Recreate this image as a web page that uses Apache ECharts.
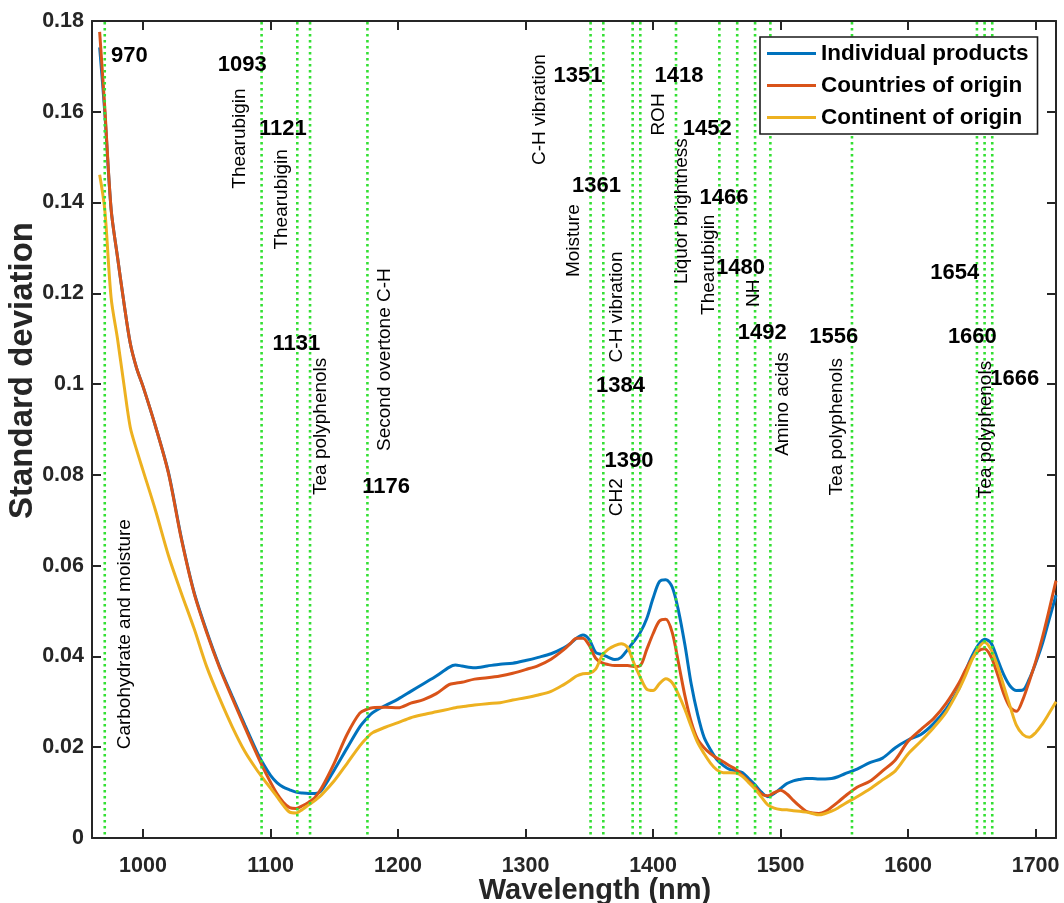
<!DOCTYPE html>
<html>
<head>
<meta charset="utf-8">
<title>Standard deviation of NIR spectra</title>
<script src="https://cdn.jsdelivr.net/npm/echarts@6/dist/echarts.min.js"></script>
<style>
  html, body { margin: 0; padding: 0; background: #fff; }
  #chart { width: 1064px; height: 903px; }
</style>
</head>
<body>
<div id="chart"></div>
<script>
// Wavelength grid (nm) shared by the three standard-deviation spectra
const wavelengths = [
  966, 970, 975, 980, 985, 990, 995, 1000, 1010, 1020,
  1030, 1040, 1050, 1060, 1070, 1080, 1090, 1095, 1100, 1105,
  1110, 1115, 1120, 1125, 1130, 1135, 1140, 1150, 1160, 1170,
  1176, 1180, 1190, 1200, 1210, 1220, 1230, 1240, 1245, 1250,
  1260, 1270, 1280, 1290, 1300, 1310, 1320, 1330, 1335, 1340,
  1345, 1350, 1355, 1360, 1365, 1370, 1375, 1380, 1385, 1390,
  1395, 1400, 1405, 1410, 1415, 1420, 1425, 1430, 1435, 1440,
  1445, 1450, 1455, 1460, 1465, 1470, 1475, 1480, 1485, 1490,
  1495, 1500, 1505, 1510, 1515, 1520, 1525, 1530, 1535, 1540,
  1545, 1550, 1560, 1570, 1580, 1590, 1600, 1610, 1620, 1630,
  1640, 1645, 1650, 1655, 1660, 1665, 1670, 1675, 1680, 1685,
  1690, 1695, 1700, 1705, 1710, 1716
];

const individualProducts = [
  0.1742, 0.1600, 0.1385, 0.1280, 0.1180, 0.1090, 0.1035, 0.0995, 0.0905, 0.0805,
  0.0662, 0.0542, 0.0455, 0.0378, 0.0312, 0.0248, 0.0186, 0.0160, 0.0138, 0.0122,
  0.0112, 0.0106, 0.0101, 0.0099, 0.0098, 0.0098, 0.0105, 0.0150, 0.0198, 0.0245,
  0.0265, 0.0276, 0.0292, 0.0306, 0.0323, 0.0340, 0.0357, 0.0376, 0.0381, 0.0379,
  0.0375, 0.0379, 0.0383, 0.0385, 0.0391, 0.0398, 0.0406, 0.0419, 0.0428, 0.0440,
  0.0447, 0.0437, 0.0409, 0.0404, 0.0398, 0.0393, 0.0398, 0.0415, 0.0433, 0.0453,
  0.0483, 0.0528, 0.0565, 0.0569, 0.0553, 0.0500, 0.0425, 0.0338, 0.0272, 0.0222,
  0.0195, 0.0173, 0.0160, 0.0151, 0.0148, 0.0144, 0.0131, 0.0117, 0.0101, 0.0091,
  0.0098, 0.0109, 0.0120, 0.0126, 0.0129, 0.0131, 0.0131, 0.0130, 0.0130, 0.0131,
  0.0135, 0.0141, 0.0152, 0.0166, 0.0176, 0.0199, 0.0216, 0.0228, 0.0252, 0.0285,
  0.0330, 0.0367, 0.0400, 0.0425, 0.0438, 0.0430, 0.0395, 0.0360, 0.0335, 0.0325,
  0.0326, 0.0350, 0.0385, 0.0425, 0.0475, 0.0535
];

const countriesOfOrigin = [
  0.1776, 0.1610, 0.1385, 0.1280, 0.1180, 0.1090, 0.1035, 0.0995, 0.0905, 0.0803,
  0.0660, 0.0540, 0.0452, 0.0375, 0.0308, 0.0243, 0.0180, 0.0150, 0.0123, 0.0098,
  0.0079, 0.0067, 0.0065, 0.0071, 0.0079, 0.0090, 0.0110, 0.0165, 0.0228, 0.0275,
  0.0284, 0.0287, 0.0288, 0.0287, 0.0297, 0.0305, 0.0318, 0.0338, 0.0341, 0.0343,
  0.0350, 0.0353, 0.0357, 0.0363, 0.0371, 0.0380, 0.0394, 0.0415, 0.0428, 0.0440,
  0.0440, 0.0424, 0.0396, 0.0386, 0.0382, 0.0380, 0.0380, 0.0380, 0.0378, 0.0380,
  0.0415, 0.0450, 0.0478, 0.0482, 0.0453, 0.0385, 0.0313, 0.0255, 0.0217, 0.0199,
  0.0186, 0.0176, 0.0168, 0.0159, 0.0151, 0.0138, 0.0125, 0.0112, 0.0097, 0.0093,
  0.0100, 0.0105, 0.0097, 0.0083, 0.0070, 0.0059, 0.0055, 0.0054, 0.0058, 0.0068,
  0.0079, 0.0091, 0.0112, 0.0125, 0.0148, 0.0172, 0.0213, 0.0239, 0.0263, 0.0297,
  0.0342, 0.0370, 0.0395, 0.0412, 0.0417, 0.0400, 0.0362, 0.0318, 0.0288, 0.0279,
  0.0305, 0.0345, 0.0388, 0.0438, 0.0495, 0.0567
];

const continentOfOrigin = [
  0.1461, 0.1385, 0.1190, 0.1100, 0.1000, 0.0905, 0.0855, 0.0810, 0.0720, 0.0622,
  0.0540, 0.0462, 0.0377, 0.0308, 0.0245, 0.0190, 0.0147, 0.0128, 0.0110, 0.0091,
  0.0072, 0.0057, 0.0055, 0.0063, 0.0073, 0.0083, 0.0095, 0.0126, 0.0164, 0.0203,
  0.0222, 0.0232, 0.0244, 0.0254, 0.0265, 0.0272, 0.0278, 0.0284, 0.0287, 0.0289,
  0.0293, 0.0296, 0.0298, 0.0304, 0.0309, 0.0315, 0.0323, 0.0338, 0.0347, 0.0357,
  0.0362, 0.0363, 0.0372, 0.0402, 0.0416, 0.0424, 0.0428, 0.0420, 0.0385, 0.0354,
  0.0328, 0.0325, 0.0340, 0.0351, 0.0342, 0.0316, 0.0283, 0.0245, 0.0210, 0.0186,
  0.0165, 0.0150, 0.0144, 0.0144, 0.0143, 0.0136, 0.0122, 0.0108, 0.0090, 0.0073,
  0.0066, 0.0063, 0.0062, 0.0060, 0.0059, 0.0057, 0.0054, 0.0051, 0.0054, 0.0059,
  0.0066, 0.0075, 0.0091, 0.0108, 0.0128, 0.0148, 0.0185, 0.0213, 0.0243, 0.0278,
  0.0328, 0.0358, 0.0392, 0.0418, 0.0431, 0.0415, 0.0380, 0.0335, 0.0290, 0.0248,
  0.0228, 0.0222, 0.0232, 0.0250, 0.0272, 0.0300
];

const seriesNames = ['Individual products', 'Countries of origin', 'Continent of origin'];

// x-axis tick values (nm)
const xTicks = [1000, 1100, 1200, 1300, 1400, 1500, 1600, 1700];

// Assigned absorption bands (nm)
const bandWavelengths = [970, 1093, 1121, 1131, 1176, 1351, 1361, 1384, 1390,
  1418, 1452, 1466, 1480, 1492, 1556, 1654, 1660, 1666];

// Chemical assignments written beside the bands
const bandAssignments = ['Carbohydrate and moisture', 'Thearubigin', 'Thearubigin',
  'Tea polyphenols', 'Second overtone C-H', 'C-H vibration', 'Moisture',
  'C-H vibration', 'CH2', 'ROH', 'Liquor brightness', 'Thearubigin', 'NH',
  'Amino acids', 'Tea polyphenols', 'Tea polyphenols'];

// Placement of the band numbers and of the rotated assignments, [x (nm), y]
const bandNumberAnchors = [
  [989.3, 0.1724], [1077.8, 0.1704], [1109.6, 0.1562], [1120.3, 0.1089],
  [1190.7, 0.0774], [1341.2, 0.1679], [1355.6, 0.1436], [1374.5, 0.0995],
  [1381.1, 0.0830], [1420.3, 0.1679], [1442.5, 0.1562], [1455.6, 0.1411],
  [1468.6, 0.1257], [1485.6, 0.1112], [1541.7, 0.1105], [1636.6, 0.1246],
  [1650.4, 0.1105], [1683.7, 0.1012]
];
const assignmentAnchors = [
  [985.6, 0.0449], [1076.2, 0.1541], [1108.8, 0.1407], [1139.2, 0.0907],
  [1189.6, 0.1054], [1311.5, 0.1605], [1337.8, 0.1316], [1371.9, 0.1170],
  [1371.9, 0.0751], [1404.5, 0.1594], [1422.9, 0.1381], [1443.7, 0.1263],
  [1479.0, 0.1200], [1501.7, 0.0956], [1544.0, 0.0906], [1661.3, 0.0900]
];

const FONT = '"Liberation Sans", Arial, Helvetica, sans-serif';
const AXIS_COLOR = '#262626';
const lineColors = ['#0072BD', '#D95319', '#EDB120'];
const valueSets = [individualProducts, countriesOfOrigin, continentOfOrigin];

const chart = echarts.init(document.getElementById('chart'), null, { renderer: 'canvas' });

const curveSeries = seriesNames.map((name, k) => ({
  name: name,
  type: 'line',
  xAxisIndex: 0,
  yAxisIndex: 0,
  data: wavelengths.map((w, i) => [w, valueSets[k][i]]),
  symbol: 'none',
  showSymbol: false,
  smooth: 0.3,
  silent: true,
  z: 2 + k,
  lineStyle: { width: 3, color: lineColors[k] },
  itemStyle: { color: lineColors[k] }
}));

const bandLineSeries = {
  type: 'custom',
  xAxisIndex: 0,
  yAxisIndex: 0,
  silent: true,
  z: 6,
  data: bandWavelengths.map(w => [w, 0]),
  encode: { x: 0, y: 1 },
  renderItem: function (params, api) {
    const x = api.coord([api.value(0), 0])[0];
    const cs = params.coordSys;
    return {
      type: 'line',
      shape: { x1: x, y1: cs.y + 1, x2: x, y2: cs.y + cs.height - 1 },
      style: { stroke: '#33e033', lineWidth: 2.6, lineDash: [2.6, 3.4] }
    };
  }
};

function annotationSeries(points, texts, labelStyle) {
  return {
    type: 'scatter',
    xAxisIndex: 0,
    yAxisIndex: 0,
    silent: true,
    z: 8,
    symbolSize: 1,
    itemStyle: { color: 'rgba(0,0,0,0)', opacity: 1 },
    data: points.map((p, i) => [p[0], p[1], texts[i]]),
    label: Object.assign({
      show: true,
      position: 'inside',
      align: 'center',
      verticalAlign: 'middle',
      formatter: p => p.value[2],
      color: '#000',
      opacity: 1,
      textBorderWidth: 0,
      fontFamily: FONT
    }, labelStyle)
  };
}

const bandNumberSeries = annotationSeries(bandNumberAnchors, bandWavelengths.map(String),
  { fontWeight: 'bold', fontSize: 22 });
const assignmentSeries = annotationSeries(assignmentAnchors, bandAssignments,
  { fontSize: 19, rotate: 90 });

const sharedX = { type: 'value', min: 960, max: 1716, gridIndex: 0, splitLine: { show: false } };
const sharedY = { type: 'value', min: 0, max: 0.18, interval: 0.02, gridIndex: 0, splitLine: { show: false } };
const axisLineStyle = { show: true, onZero: false, lineStyle: { color: AXIS_COLOR, width: 2 } };
const tickLabelStyle = { fontFamily: FONT, fontWeight: 'bold', fontSize: 21.5, color: '#262626' };

chart.setOption({
  animation: false,
  backgroundColor: '#ffffff',
  grid: { left: 92, right: 8, top: 21, bottom: 65, containLabel: false, outerBoundsMode: 'none' },
  legend: {
    data: seriesNames,
    orient: 'vertical',
    left: 760,
    top: 37,
    padding: [5, 9, 5, 7],
    itemGap: 9,
    itemWidth: 49,
    itemHeight: 3,
    icon: 'rect',
    backgroundColor: '#ffffff',
    borderColor: '#1a1a1a',
    borderWidth: 1.6,
    borderRadius: 0,
    selectedMode: false,
    textStyle: { fontFamily: FONT, fontWeight: 'bold', fontSize: 22.5, color: '#000', lineHeight: 22 },
    z: 20
  },
  xAxis: [
    Object.assign({}, sharedX, {
      position: 'bottom',
      name: 'Wavelength (nm)',
      nameLocation: 'middle',
      nameGap: 38,
      nameMoveOverlap: false,
      nameTextStyle: { fontFamily: FONT, fontWeight: 'bold', fontSize: 29, color: '#262626', padding: [0, 0, 0, 42] },
      axisLine: axisLineStyle,
      axisTick: { show: true, inside: true, length: 9, customValues: xTicks, lineStyle: { color: AXIS_COLOR, width: 2 } },
      axisLabel: Object.assign({ show: true, customValues: xTicks, margin: 17, formatter: v => String(v) }, tickLabelStyle)
    }),
    Object.assign({}, sharedX, {
      position: 'top',
      axisLine: axisLineStyle,
      axisTick: { show: true, inside: true, length: 9, customValues: xTicks, lineStyle: { color: AXIS_COLOR, width: 2 } },
      axisLabel: { show: false }
    })
  ],
  yAxis: [
    Object.assign({}, sharedY, {
      position: 'left',
      name: 'Standard deviation',
      nameLocation: 'middle',
      nameGap: 53,
      nameMoveOverlap: false,
      nameTextStyle: { fontFamily: FONT, fontWeight: 'bold', fontSize: 33, color: '#262626', padding: [0, 0, 0, 118] },
      axisLine: axisLineStyle,
      axisTick: { show: true, inside: true, length: 9, lineStyle: { color: AXIS_COLOR, width: 2 } },
      axisLabel: Object.assign({ show: true, margin: 8 }, tickLabelStyle)
    }),
    Object.assign({}, sharedY, {
      position: 'right',
      axisLine: axisLineStyle,
      axisTick: { show: true, inside: true, length: 9, lineStyle: { color: AXIS_COLOR, width: 2 } },
      axisLabel: { show: false }
    })
  ],
  series: curveSeries.concat([bandLineSeries, bandNumberSeries, assignmentSeries])
});
</script>
</body>
</html>
